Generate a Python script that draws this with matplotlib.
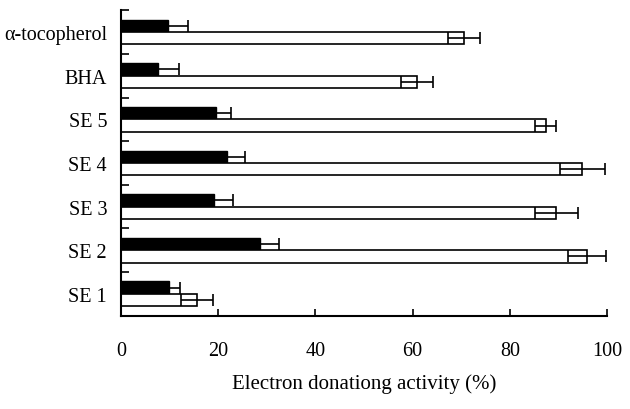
import matplotlib
matplotlib.use("Agg")
import matplotlib.pyplot as plt
import numpy as np

categories = ["SE 1", "SE 2", "SE 3", "SE 4", "SE 5", "BHA", "\u03b1-tocopherol"]
black_vals = [9.9, 28.6, 19.2, 21.8, 19.5, 7.7, 9.7]
black_err = [2.2, 4.0, 3.8, 3.7, 3.1, 4.3, 4.0]
white_vals = [15.7, 95.8, 89.6, 94.9, 87.4, 61.0, 70.6]
white_err = [3.3, 3.9, 4.5, 4.6, 2.2, 3.3, 3.3]
xticks = [0, 20, 40, 60, 80, 100]
xlabel = "Electron donationg activity (%)"

plt.rcParams['font.family'] = ['Liberation Serif', 'DejaVu Serif']

fig = plt.figure(figsize=(6.3, 4.1), dpi=100)
ax = fig.add_axes([0.192, 0.2276, 0.7715, 0.745])

y = np.arange(len(categories))
h = 0.285
ax.barh(y + h / 2, black_vals, height=h, color='black', edgecolor='black', linewidth=1.0,
        xerr=black_err, error_kw=dict(ecolor='black', elinewidth=1.2, capsize=4, capthick=1.2))
ax.barh(y - h / 2, white_vals, height=h, color='white', edgecolor='black', linewidth=1.2,
        xerr=white_err, error_kw=dict(ecolor='black', elinewidth=1.2, capsize=4, capthick=1.2))

ax.set_xlim(0, 100)
ax.set_ylim(-0.5, len(categories) - 0.5)
ax.set_yticks(y)
ax.set_yticklabels(categories, fontsize=14.5)
ax.set_yticks(np.arange(len(categories)) + 0.5, minor=True)
ax.tick_params(axis='y', which='major', length=0, pad=10)
ax.tick_params(axis='y', which='minor', direction='in', length=6, width=1.2)
ax.set_xticks(xticks)
ax.set_xticklabels([str(t) for t in xticks], fontsize=14.5)
ax.tick_params(axis='x', direction='in', length=5, width=1.2, pad=18)
ax.set_xlabel(xlabel, fontsize=15, labelpad=10)

for s in ['top', 'right']:
    ax.spines[s].set_visible(False)
for s in ['left', 'bottom']:
    ax.spines[s].set_linewidth(1.5)

fig.savefig("out.png", dpi=100)
